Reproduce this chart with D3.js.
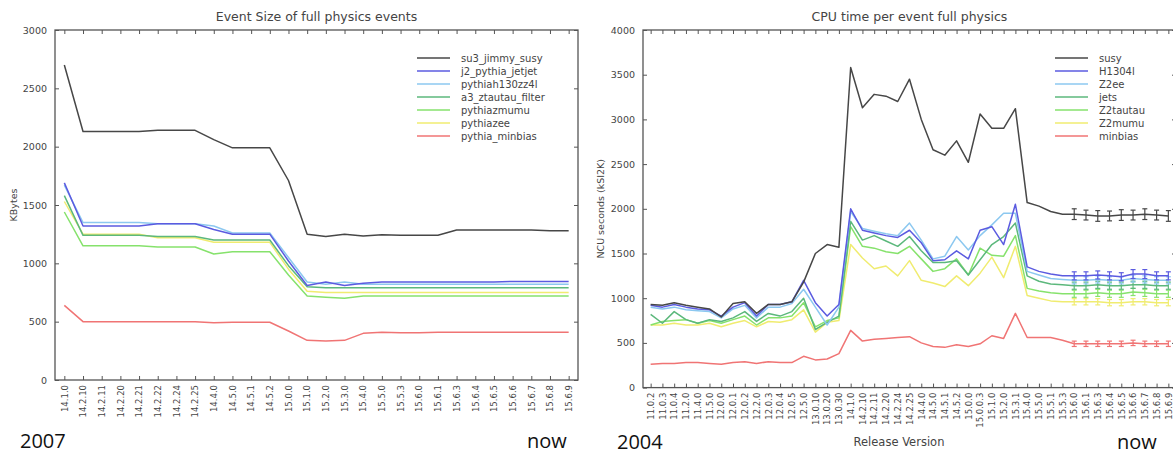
<!DOCTYPE html>
<html>
<meta charset="utf-8">
<style>
  body { margin: 0; background: #fff; }
  text { font-family: "DejaVu Sans", sans-serif; fill: #444; }
  .big { font-family: "Open Sans", sans-serif; fill: #111; }
</style>
<body>
<script src="https://d3js.org/d3.v7.min.js"></script>
<script>

// ---- left chart: event size (2007 -> now)
var leftLabels = ["14.1.0","14.2.10","14.2.11","14.2.20","14.2.21","14.2.22","14.2.24","14.2.25",
  "14.4.0","14.5.0","14.5.1","14.5.2","15.0.0","15.1.0","15.2.0","15.3.0","15.4.0","15.5.0",
  "15.5.3","15.6.0","15.6.1","15.6.3","15.6.4","15.6.5","15.6.6","15.6.7","15.6.8","15.6.9"];

var su3Susy   = [2700,2130,2130,2130,2130,2140,2140,2140,2060,1990,1990,1990,1710,1250,1230,1250,1235,1245,1240,1240,1240,1285,1285,1285,1285,1285,1280,1280];
var j2Jetjet  = [1690,1320,1320,1320,1320,1340,1340,1340,1290,1250,1250,1250,1020,810,840,810,830,840,840,840,840,840,840,840,845,845,845,845];
var h130zz4l  = [1670,1350,1350,1350,1350,1340,1340,1340,1320,1260,1260,1260,1050,840,820,840,820,820,820,820,820,820,820,820,820,820,820,820];
var a3Ztautau = [1580,1240,1240,1240,1240,1230,1230,1230,1200,1200,1200,1200,980,800,790,790,790,790,790,790,790,790,790,790,790,790,790,790];
var pyZmumu   = [1440,1150,1150,1150,1150,1140,1140,1140,1080,1100,1100,1100,900,720,710,700,720,720,720,720,720,720,720,720,720,720,720,720];
var pyZee     = [1530,1250,1250,1250,1250,1220,1220,1220,1180,1180,1180,1180,950,760,750,750,750,750,750,750,750,750,750,750,750,750,750,750];
var pyMinbias = [640,500,500,500,500,500,500,500,490,495,495,495,420,340,335,340,400,410,405,405,410,410,410,410,410,410,410,410];

var leftNames = ["su3_jimmy_susy","j2_pythia_jetjet","pythiah130zz4l","a3_ztautau_filter","pythiazmumu","pythiazee","pythia_minbias"];

// ---- right chart: CPU time (2004 -> now)
var rightLabels = ["11.0.2","11.0.3","11.0.4","11.2.0","11.4.0","11.5.0","12.0.0","12.0.1","12.0.2","12.2.0",
  "12.0.3","12.0.4","12.0.5","12.5.0","13.0.10","13.0.20","13.0.30","14.1.0","14.2.10","14.2.11",
  "14.2.20","14.2.24","14.2.25","14.4.0","14.5.0","14.5.1","14.5.2","15.0.0","15.0.0.3","15.1.0",
  "15.2.0","15.3.1","15.4.0","15.5.0","15.5.1","15.5.3","15.6.0","15.6.1","15.6.3","15.6.4",
  "15.6.5","15.6.6","15.6.7","15.6.8","15.6.9"];

var susy     = [930,920,950,920,900,880,790,940,960,830,930,930,960,1180,1500,1600,1570,3580,3130,3280,3260,3200,3450,3000,2660,2600,2760,2520,3060,2900,2900,3120,2070,2030,1970,1940,1940,1930,1920,1920,1930,1930,1940,1930,1920];
var h1304l   = [920,900,930,900,880,870,800,900,950,800,930,930,960,1200,950,800,930,2000,1760,1730,1700,1680,1760,1620,1420,1430,1530,1440,1760,1800,1600,2050,1350,1300,1270,1250,1250,1250,1260,1250,1240,1270,1270,1250,1250];
var z2ee     = [900,880,900,870,860,850,780,880,920,780,900,900,940,1100,900,700,900,1970,1780,1750,1720,1700,1840,1650,1440,1470,1690,1540,1700,1820,1950,1950,1300,1260,1220,1210,1200,1200,1210,1200,1200,1220,1210,1200,1200];
var jets     = [820,720,850,760,720,760,740,780,850,740,830,800,850,1000,650,730,800,1860,1650,1700,1640,1580,1690,1530,1400,1400,1420,1260,1430,1600,1690,1840,1250,1190,1160,1150,1140,1140,1150,1140,1140,1150,1150,1140,1140];
var z2tautau = [700,740,750,760,720,750,720,760,800,700,780,780,800,950,680,750,780,1800,1580,1560,1520,1500,1580,1440,1300,1330,1440,1260,1560,1480,1470,1700,1110,1080,1060,1050,1050,1050,1060,1050,1050,1070,1060,1050,1050];
var z2mumu   = [700,700,720,700,700,720,680,720,750,680,740,730,760,870,620,730,750,1600,1450,1330,1360,1250,1420,1200,1170,1130,1250,1140,1280,1460,1230,1580,1030,1000,970,960,960,960,960,950,950,960,960,950,950];
var minbias  = [260,270,270,280,280,270,260,280,290,270,290,280,280,350,310,320,380,640,520,540,550,560,570,500,460,450,480,460,490,580,550,830,560,560,560,530,490,490,490,490,490,500,490,490,490];

// error bars only on the last releases (from 15.6.0 on)
var errFrom     = "15.6.0";
var susyErr     = [60,55,60,55,60,55,60,55,60];
var h1304lErr   = [45,45,45,45,45,50,50,45,45];
var z2eeErr     = [40,40,40,40,40,40,40,40,40];
var jetsErr     = [40,40,40,40,40,40,40,40,40];
var z2tautauErr = [40,40,40,40,40,40,40,40,40];
var z2mumuErr   = [35,35,35,35,35,35,35,35,35];
var minbiasErr  = [30,30,30,30,30,30,30,30,30];

var rightNames = ["susy","H1304l","Z2ee","jets","Z2tautau","Z2mumu","minbias"];

var colors = ["#474747","#5b5be0","#8cc8f0","#5cb87c","#86e26c","#f0ec70","#f07474"];

var W = 1173, H = 460;
var svg = d3.select("body").append("svg").attr("width", W).attr("height", H);

function drawPanel(cfg) {
  var x = d3.scalePoint().domain(cfg.labels).range([cfg.x0, cfg.x1]).padding(cfg.pad);
  var y = d3.scaleLinear().domain([0, cfg.ymax]).range([cfg.y1, cfg.y0]);
  var g = svg.append("g");

  // frame
  g.append("rect").attr("x", cfg.x0).attr("y", cfg.y0)
    .attr("width", cfg.x1 - cfg.x0).attr("height", cfg.y1 - cfg.y0)
    .attr("fill", "none").attr("stroke", "#555").attr("stroke-width", 1.3);

  // axes (ticks inside, matplotlib style)
  var yt = d3.range(0, cfg.ymax + 1, 500);
  g.append("g").attr("transform", "translate(" + cfg.x0 + ",0)")
    .call(d3.axisLeft(y).tickValues(yt).tickSize(-4).tickPadding(8).tickFormat(d3.format("d")))
    .call(function(a){ a.select(".domain").remove(); a.selectAll("line").attr("stroke","#555");
      a.selectAll("text").style("font-size","9.5px").attr("fill","#444"); });
  g.append("g").attr("transform", "translate(" + cfg.x1 + ",0)")
    .call(d3.axisRight(y).tickValues(yt).tickSize(-4).tickFormat(""))
    .call(function(a){ a.select(".domain").remove(); a.selectAll("line").attr("stroke","#555"); });
  g.append("g").attr("transform", "translate(0," + cfg.y1 + ")")
    .call(d3.axisBottom(x).tickSize(-4).tickPadding(4))
    .call(function(a){ a.select(".domain").remove(); a.selectAll("line").attr("stroke","#555");
      a.selectAll("text").style("font-size","8.5px").attr("fill","#444")
        .attr("transform","rotate(-90)").attr("text-anchor","end")
        .attr("x", -5).attr("y", 0).attr("dy","0.32em"); });
  g.append("g").attr("transform", "translate(0," + cfg.y0 + ")")
    .call(d3.axisTop(x).tickSize(-4).tickFormat(""))
    .call(function(a){ a.select(".domain").remove(); a.selectAll("line").attr("stroke","#555"); });

  // title and y label
  g.append("text").attr("x", (cfg.x0 + cfg.x1) / 2).attr("y", 21).attr("text-anchor","middle")
    .style("font-size","12.5px").attr("fill","#333").text(cfg.title);
  g.append("text").attr("transform","translate(" + cfg.ylx + "," + ((cfg.y0 + cfg.y1) / 2) + ") rotate(-90)")
    .attr("text-anchor","middle").style("font-size","9.5px").attr("fill","#333").text(cfg.ylabel);

  var line = d3.line().x(function(d, i){ return x(cfg.labels[i]); }).y(function(d){ return y(d); });

  // series, last one drawn first so black ends on top
  for (var k = cfg.series.length - 1; k >= 0; k--) {
    g.append("path").datum(cfg.series[k]).attr("d", line)
      .attr("fill","none").attr("stroke", colors[k]).attr("stroke-width", 1.5)
      .attr("stroke-linejoin","round");
    if (cfg.errs) {
      var s = cfg.labels.indexOf(errFrom);
      var errs = cfg.errs[k];
      var pts = cfg.series[k].slice(s).map(function(v, j){ return {lab: cfg.labels[s + j], v: v, e: errs[j]}; });
      var eb = g.append("g").attr("stroke", colors[k]).attr("stroke-width", 1.2);
      pts.forEach(function(p){
        var px = x(p.lab);
        eb.append("line").attr("x1",px).attr("x2",px).attr("y1",y(p.v - p.e)).attr("y2",y(p.v + p.e));
        eb.append("line").attr("x1",px-2.5).attr("x2",px+2.5).attr("y1",y(p.v - p.e)).attr("y2",y(p.v - p.e));
        eb.append("line").attr("x1",px-2.5).attr("x2",px+2.5).attr("y1",y(p.v + p.e)).attr("y2",y(p.v + p.e));
      });
    }
  }

  // legend
  var lg = g.append("g");
  cfg.names.forEach(function(n, i){
    var ly = cfg.legY + i * 13;
    lg.append("line").attr("x1", cfg.legX).attr("x2", cfg.legX + 33).attr("y1", ly).attr("y2", ly)
      .attr("stroke", colors[i]).attr("stroke-width", 1.6);
    lg.append("text").attr("x", cfg.legX + 44).attr("y", ly).attr("dy","0.35em")
      .style("font-size","10px").attr("fill","#444").text(n);
  });
}

drawPanel({
  labels: leftLabels, x0: 55, x1: 578, y0: 30, y1: 380, pad: 0.5, ymax: 3000,
  title: "Event Size of full physics events", ylabel: "KBytes", ylx: 17,
  series: [su3Susy, j2Jetjet, h130zz4l, a3Ztautau, pyZmumu, pyZee, pyMinbias],
  names: leftNames, legX: 417, legY: 58
});

drawPanel({
  labels: rightLabels, x0: 643, x1: 1176, y0: 30, y1: 387.6, pad: 0.65, ymax: 4000,
  title: "CPU time per event full physics", ylabel: "NCU seconds (kSI2K)", ylx: 604,
  series: [susy, h1304l, z2ee, jets, z2tautau, z2mumu, minbias],
  errs: [susyErr, h1304lErr, z2eeErr, jetsErr, z2tautauErr, z2mumuErr, minbiasErr],
  names: rightNames, legX: 1055, legY: 58
});

svg.append("text").attr("x", 899).attr("y", 446).attr("text-anchor","middle")
  .style("font-size","11.5px").attr("fill","#444").text("Release Version");

svg.append("text").attr("class","big").attr("x", 20).attr("y", 448).style("font-size","20px").text("2007");
svg.append("text").attr("class","big").attr("x", 527).attr("y", 448).style("font-size","20px").text("now");
svg.append("text").attr("class","big").attr("x", 617).attr("y", 449).style("font-size","20px").text("2004");
svg.append("text").attr("class","big").attr("x", 1117).attr("y", 449).style("font-size","20px").text("now");

</script>
</body>
</html>
